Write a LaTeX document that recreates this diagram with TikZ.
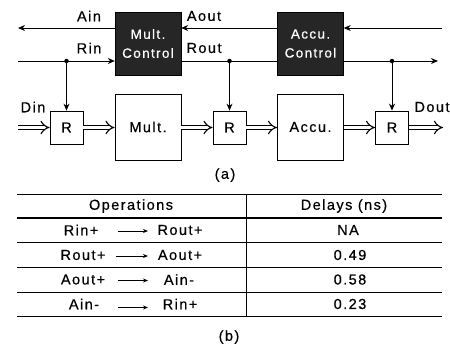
\documentclass[tikz,border=0pt]{standalone}
\usepackage{fontspec}
\setmainfont{Liberation Sans}[LetterSpace=10,FakeBold=0.5]
\usetikzlibrary{arrows.meta}
\begin{document}
\begin{tikzpicture}[x=1pt,y=-1pt,
  font=\fontsize{14.5}{17}\selectfont,
  rbox/.style={draw, line width=0.8pt, minimum width=33pt, minimum height=33pt, inner sep=0pt},
  bigbox/.style={draw, line width=0.8pt, minimum width=66pt, minimum height=66pt, inner sep=0pt},
  ctrl/.style={draw=black, fill=black!85, text=white, minimum width=66pt, minimum height=63pt, inner sep=0pt, align=center, font=\fontsize{13.5}{19}\selectfont},
  sig/.style={line width=1pt, -{Stealth[length=7pt,width=6pt]}},
  wire/.style={line width=1pt},
  dbl/.style={double=white, draw=black, double distance=3.6pt, line width=1.1pt, -{Implies}},
  dot/.style={circle, fill=black, inner sep=0pt, minimum size=4.5pt},
  tarr/.style={line width=0.8pt, -{Stealth[length=5pt,width=4pt]}},
  lbl/.style={inner sep=0pt}
]
\useasboundingbox (0,0) rectangle (450,349);

% control blocks
\node[ctrl] (mc) at (148,43.5) {Mult.\\Control};
\node[ctrl] (ac) at (310.5,43.5) {Accu.\\Control};

% data path blocks
\node[rbox] (r1) at (66.5,127.5) {R};
\node[bigbox] (mu) at (148,127) {Mult.};
\node[rbox] (r2) at (229.5,127.5) {R};
\node[bigbox] (acc) at (310.5,127) {Accu.};
\node[rbox] (r3) at (392,127.5) {R};

% free ends
\coordinate (ainEnd) at (18,28);
\coordinate (aoutStart) at (442,28);
\coordinate (rinStart) at (18,61);
\coordinate (routEnd) at (438,61);
\coordinate (dinStart) at (18,127.5);
\coordinate (doutEnd) at (443,127.5);

% dots
\node[dot] (d1) at (66.5,61) {};
\node[dot] (d2) at (229.5,61) {};
\node[dot] (d3) at (392,61) {};

% acknowledge line
\draw[sig] (mc.west |- ainEnd) -- (ainEnd);
\draw[sig] (ac.west |- ainEnd) -- (mc.east |- ainEnd);
\draw[sig] (aoutStart) -- (ac.east |- aoutStart);

% request line
\draw[sig] (rinStart) -- (mc.west |- rinStart);
\draw[wire] (mc.east |- rinStart) -- (ac.west |- rinStart);
\draw[sig] (ac.east |- routEnd) -- (routEnd);

\draw[sig] (d1) -- (r1.north);
\draw[sig] (d2) -- (r2.north);
\draw[sig] (d3) -- (r3.north);

% labels
\node[lbl] (lain) at (89,16) {Ain};
\node[lbl] (laout) at (204,16) {Aout};
\node[lbl] (lrin) at (89,48) {Rin};
\node[lbl] (lrout) at (204,48) {Rout};
\node[lbl] (ldin) at (33,107) {Din};
\node[lbl] (ldout) at (432,107) {Dout};

% data path
\draw[dbl] (dinStart) -- (r1.west);
\draw[dbl] (r1.east) -- (mu.west |- r1.east);
\draw[dbl] (mu.east |- r2.west) -- (r2.west);
\draw[dbl] (r2.east) -- (acc.west |- r2.east);
\draw[dbl] (acc.east |- r3.west) -- (r3.west);
\draw[dbl] (r3.east) -- (doutEnd);

\node[lbl] (capa) at (225,175) {(a)};

% table
\draw[line width=0.8pt] (17,194) -- (442,194);
\draw[line width=2.6pt] (17,218) -- (442,218);
\draw[line width=0.8pt] (17,242) -- (442,242);
\draw[line width=0.8pt] (17,267) -- (442,267);
\draw[line width=0.8pt] (17,292) -- (442,292);
\draw[line width=0.8pt] (17,316) -- (442,316);
\draw[line width=0.6pt] (246,194) -- (246,316);

\node[lbl] (hop) at (131,206) {Operations};
\node[lbl] (hdl) at (344,206) {Delays (ns)};

\node[lbl] (l1) at (81,230) {Rin+};
\node[lbl] (m1) at (180,230) {Rout+};
\node[lbl] (v1) at (348,230) {NA};
\coordinate (a1s) at (118,231);
\coordinate (a1e) at (148,231);
\draw[tarr] (a1s) -- (a1e);

\node[lbl] (l2) at (83,255) {Rout+};
\node[lbl] (m2) at (180,255) {Aout+};
\node[lbl] (v2) at (350,255) {0.49};
\coordinate (a2s) at (116,256);
\coordinate (a2e) at (148,256);
\draw[tarr] (a2s) -- (a2e);

\node[lbl] (l3) at (83,279.5) {Aout+};
\node[lbl] (m3) at (179,279.5) {Ain-};
\node[lbl] (v3) at (350,279.5) {0.58};
\coordinate (a3s) at (118,280.5);
\coordinate (a3e) at (148,280.5);
\draw[tarr] (a3s) -- (a3e);

\node[lbl] (l4) at (84,304) {Ain-};
\node[lbl] (m4) at (180,304) {Rin+};
\node[lbl] (v4) at (350,304) {0.23};
\coordinate (a4s) at (118,307.5);
\coordinate (a4e) at (148,307.5);
\draw[tarr] (a4s) -- (a4e);

\node[lbl] (capb) at (229,337) {(b)};
\end{tikzpicture}
\end{document}
